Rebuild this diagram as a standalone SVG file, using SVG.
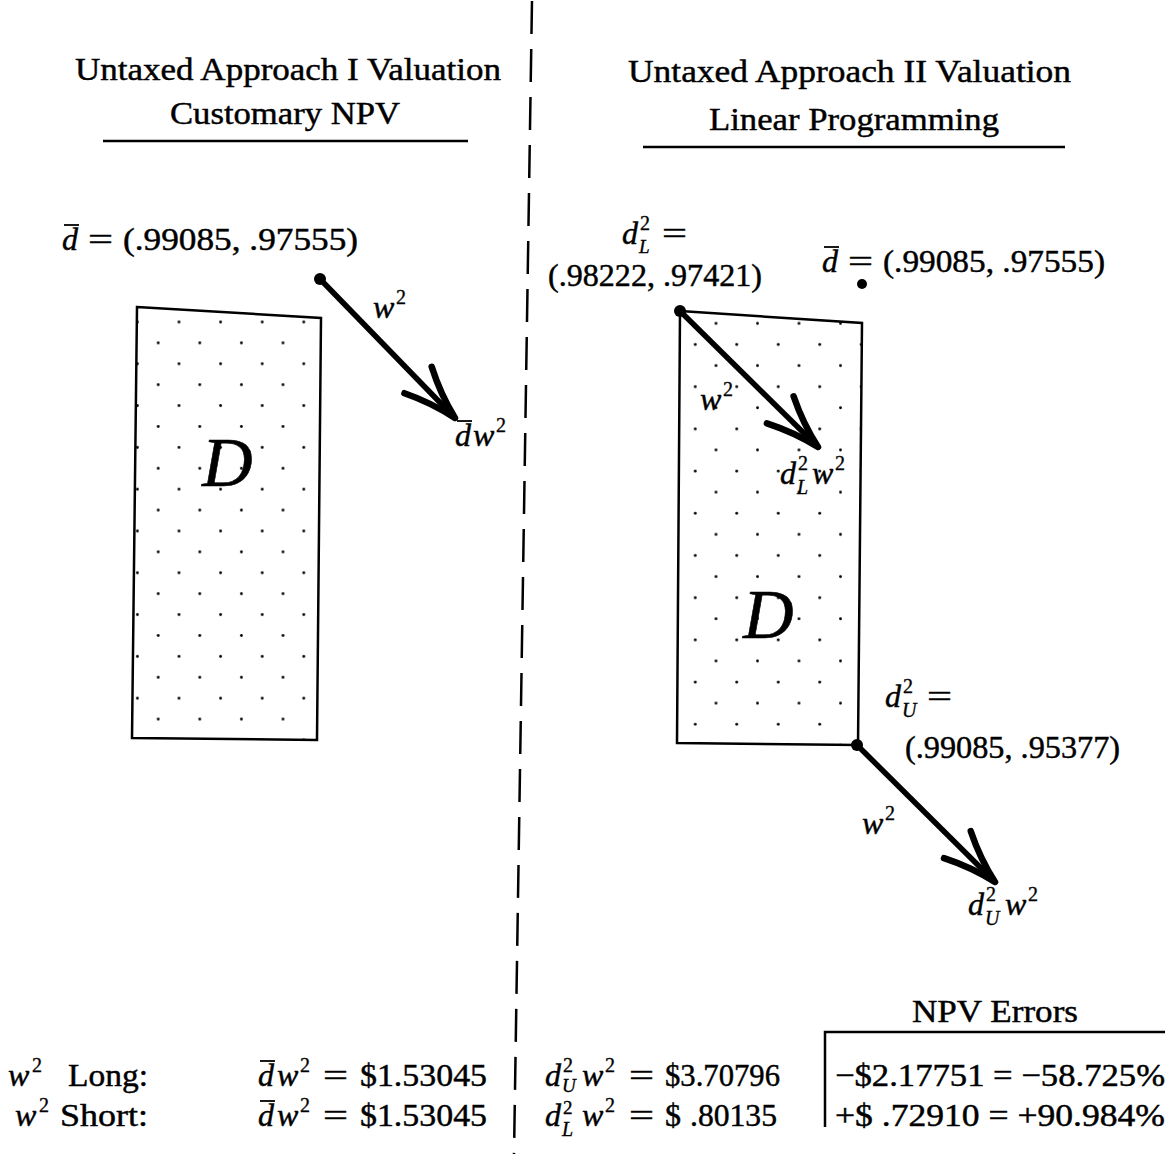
<svg xmlns="http://www.w3.org/2000/svg" width="1175" height="1154" viewBox="0 0 1175 1154">
<style>
text{font-family:"Liberation Serif","Times New Roman",serif;font-size:32px;fill:#000;stroke:#000;stroke-width:0.45}
.i{font-style:italic}
.s{font-size:20px;stroke-width:0.35}
.t{font-size:19px;stroke-width:0.35}
.big{font-size:70px;font-style:italic;stroke-width:0.6}
.rule{stroke:#000;stroke-width:2.5;fill:none}
.box{stroke:#000;stroke-width:2.5}
.shaft{stroke:#000;stroke-width:5.5;fill:none}
.bar{stroke:#000;stroke-width:1.8}
</style>
<defs>
<pattern id="dotsL" patternUnits="userSpaceOnUse" x="168.6" y="311.55" width="41.6" height="41.8">
<circle cx="10.4" cy="10.45" r="1.4" fill="#000"/>
<circle cx="31.2" cy="31.35" r="1.4" fill="#000"/>
</pattern>
<pattern id="dotsR" patternUnits="userSpaceOnUse" x="705.6" y="439.45" width="41.5" height="42.2">
<circle cx="10.4" cy="10.55" r="1.4" fill="#000"/>
<circle cx="31.15" cy="31.65" r="1.4" fill="#000"/>
</pattern>
<marker id="head" markerUnits="userSpaceOnUse" viewBox="-60 -30 70 60" refX="0" refY="0" markerWidth="70" markerHeight="60" orient="auto" overflow="visible">
<path d="M -53 -19 Q -27 -6 0 0 Q -27 6 -53 19" fill="none" stroke="#000" stroke-width="6.5" stroke-linecap="round" stroke-linejoin="round"/>
</marker>
</defs>
<rect width="1175" height="1154" fill="#fff"/>

<g id="divider">
<line x1="532" y1="0" x2="514" y2="1154" stroke="#000" stroke-width="2.5" stroke-dasharray="33 15" stroke-dashoffset="47"/>
</g>

<g id="header-left">
<text x="75" y="80" textLength="426" lengthAdjust="spacingAndGlyphs">Untaxed Approach I Valuation</text>
<text x="170" y="124" textLength="230" lengthAdjust="spacingAndGlyphs">Customary NPV</text>
<line class="rule" x1="103" y1="141" x2="468" y2="141"/>
</g>
<g id="header-right">
<text x="628" y="82" textLength="443" lengthAdjust="spacingAndGlyphs">Untaxed Approach II Valuation</text>
<text x="709" y="130" textLength="290" lengthAdjust="spacingAndGlyphs">Linear Programming</text>
<line class="rule" x1="643" y1="147" x2="1065" y2="147"/>
</g>

<g id="region-left">
<polygon class="box" points="137,307 321,318 317,740 132,738" fill="url(#dotsL)"/>
<text class="big" x="202" y="486">D</text>
</g>

<g id="region-right">
<polygon class="box" points="680,311 862,323 858,745 677,743" fill="url(#dotsR)"/>
<text class="big" x="743" y="638">D</text>
</g>

<g id="point-dbar-left">
<line class="bar" x1="64" y1="225" x2="79" y2="225"/>
<text class="i" x="62" y="250">d</text>
<text x="88" y="250" textLength="25" lengthAdjust="spacingAndGlyphs">=</text>
<text x="123" y="250" textLength="235" lengthAdjust="spacingAndGlyphs">(.99085, .97555)</text>
<circle cx="320" cy="279" r="6"/>
</g>
<g id="label-dbarw2-left">
<line class="bar" x1="457" y1="421" x2="472" y2="421"/>
<text class="i" x="455" y="446">d</text>
<text class="i" x="473" y="446">w</text>
<text class="s" x="496" y="432">2</text>
</g>

<g id="point-dL">
<text class="i" x="622" y="244">d</text>
<text class="s" x="640" y="230">2</text>
<text class="t i" x="639" y="253">L</text>
<text x="662" y="244" textLength="25" lengthAdjust="spacingAndGlyphs">=</text>
<text x="548" y="286" textLength="214" lengthAdjust="spacingAndGlyphs">(.98222, .97421)</text>
<circle cx="680" cy="311" r="6"/>
</g>
<g id="point-dbar-right">
<line class="bar" x1="824" y1="247" x2="839" y2="247"/>
<text class="i" x="822" y="272">d</text>
<text x="848" y="272" textLength="25" lengthAdjust="spacingAndGlyphs">=</text>
<text x="883" y="272" textLength="222" lengthAdjust="spacingAndGlyphs">(.99085, .97555)</text>
<circle cx="862" cy="284" r="5"/>
</g>
<g id="label-dLw2">
<text class="i" x="780" y="484">d</text>
<text class="s" x="798" y="470">2</text>
<text class="s i" x="797" y="494">L</text>
<text class="i" x="812" y="484">w</text>
<text class="s" x="835" y="470">2</text>
</g>
<g id="point-dU">
<text class="i" x="885" y="707">d</text>
<text class="s" x="903" y="693">2</text>
<text class="s i" x="902" y="717">U</text>
<text x="927" y="707" textLength="25" lengthAdjust="spacingAndGlyphs">=</text>
<text x="905" y="758" textLength="215" lengthAdjust="spacingAndGlyphs">(.99085, .95377)</text>
<circle cx="857" cy="745" r="6"/>
</g>
<g id="label-dUw2">
<text class="i" x="968" y="915">d</text>
<text class="s" x="986" y="901">2</text>
<text class="s i" x="985" y="925">U</text>
<text class="i" x="1005" y="915">w</text>
<text class="s" x="1028" y="901">2</text>
</g>

<g id="connectors">
<line class="shaft" x1="320" y1="279" x2="455" y2="418" marker-end="url(#head)"/>
<line class="shaft" x1="680" y1="311" x2="818" y2="447" marker-end="url(#head)"/>
<line class="shaft" x1="857" y1="745" x2="995" y2="882" marker-end="url(#head)"/>
<text class="i" x="373" y="318">w</text><text class="s" x="396" y="304">2</text>
<text class="i" x="700" y="410">w</text><text class="s" x="723" y="396">2</text>
<text class="i" x="862" y="834">w</text><text class="s" x="885" y="820">2</text>
</g>

<g id="table">
<text x="912" y="1022" textLength="166" lengthAdjust="spacingAndGlyphs">NPV Errors</text>
<polyline class="rule" points="825,1127 825,1032 1165,1032"/>

<text class="i" x="8" y="1086">w</text><text class="s" x="32" y="1072">2</text>
<text x="68" y="1086" textLength="80" lengthAdjust="spacingAndGlyphs">Long:</text>
<line class="bar" x1="260" y1="1061" x2="275" y2="1061"/>
<text class="i" x="258" y="1086">d</text><text class="i" x="277" y="1086">w</text><text class="s" x="300" y="1072">2</text>
<text x="323" y="1086" textLength="25" lengthAdjust="spacingAndGlyphs">=</text>
<text x="360" y="1086" textLength="127" lengthAdjust="spacingAndGlyphs">$1.53045</text>
<text class="i" x="545" y="1086">d</text><text class="s" x="563" y="1072">2</text><text class="t i" x="562" y="1092">U</text>
<text class="i" x="582" y="1086">w</text><text class="s" x="605" y="1072">2</text>
<text x="629" y="1086" textLength="25" lengthAdjust="spacingAndGlyphs">=</text>
<text x="665" y="1086" textLength="115" lengthAdjust="spacingAndGlyphs">$3.70796</text>
<text x="835" y="1086" textLength="330" lengthAdjust="spacingAndGlyphs">−$2.17751 = −58.725%</text>

<text class="i" x="15" y="1126">w</text><text class="s" x="39" y="1112">2</text>
<text x="60" y="1126" textLength="88" lengthAdjust="spacingAndGlyphs">Short:</text>
<line class="bar" x1="260" y1="1101" x2="275" y2="1101"/>
<text class="i" x="258" y="1126">d</text><text class="i" x="277" y="1126">w</text><text class="s" x="300" y="1112">2</text>
<text x="323" y="1126" textLength="25" lengthAdjust="spacingAndGlyphs">=</text>
<text x="360" y="1126" textLength="127" lengthAdjust="spacingAndGlyphs">$1.53045</text>
<text class="i" x="545" y="1126">d</text><text class="t" x="563" y="1114">2</text><text class="s i" x="562" y="1136">L</text>
<text class="i" x="582" y="1126">w</text><text class="s" x="605" y="1112">2</text>
<text x="629" y="1126" textLength="25" lengthAdjust="spacingAndGlyphs">=</text>
<text x="665" y="1126">$</text>
<text x="690" y="1126" textLength="87" lengthAdjust="spacingAndGlyphs">.80135</text>
<text x="835" y="1126" textLength="330" lengthAdjust="spacingAndGlyphs">+$ .72910 = +90.984%</text>
</g>
</svg>
